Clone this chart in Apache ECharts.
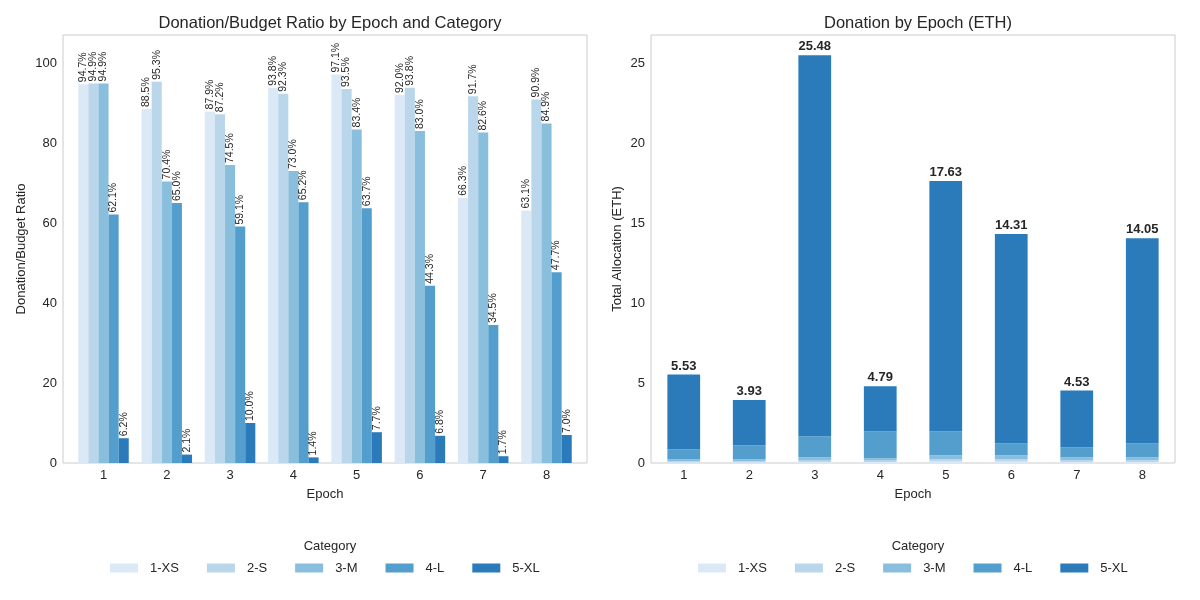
<!DOCTYPE html>
<html>
<head>
<meta charset="utf-8">
<script src="https://cdn.jsdelivr.net/npm/echarts@6/dist/echarts.min.js"></script>
<style>html,body{margin:0;padding:0;background:#fff}#c{width:1200px;height:600px}</style>
</head>
<body>
<div id="c"></div>
<script>
const epochs = ['1','2','3','4','5','6','7','8'];
const categories = ['1-XS','2-S','3-M','4-L','5-XL'];
const colors = ['#dbe9f6','#bad6eb','#89bedc','#539ecd','#2b7bba'];

// Donation/Budget ratio (%) per category
const ratioXS = [94.7, 88.5, 87.9, 93.8, 97.1, 92.0, 66.3, 63.1];
const ratioS  = [94.9, 95.3, 87.2, 92.3, 93.5, 93.8, 91.7, 90.9];
const ratioM  = [94.9, 70.4, 74.5, 73.0, 83.4, 83.0, 82.6, 84.9];
const ratioL  = [62.1, 65.0, 59.1, 65.2, 63.7, 44.3, 34.5, 47.7];
const ratioXL = [6.2, 2.1, 10.0, 1.4, 7.7, 6.8, 1.7, 7.0];

// Donation (ETH) per category
const ethXS = [0.05, 0.05, 0.07, 0.06, 0.10, 0.10, 0.07, 0.07];
const ethS  = [0.08, 0.08, 0.09, 0.10, 0.15, 0.15, 0.12, 0.12];
const ethM  = [0.10, 0.10, 0.20, 0.13, 0.23, 0.23, 0.17, 0.17];
const ethL  = [0.63, 0.88, 1.31, 1.70, 1.51, 0.75, 0.62, 0.87];
const ethXL = [4.67, 2.82, 23.81, 2.80, 15.64, 13.08, 3.55, 12.82];

const ratios = [ratioXS, ratioS, ratioM, ratioL, ratioXL];
const eths = [ethXS, ethS, ethM, ethL, ethXL];

const FONT = 'Liberation Sans, Arial, sans-serif';
const TXT = '#262626';

const chart = echarts.init(document.getElementById('c'), null, {renderer: 'canvas'});

const series = [];
ratios.forEach((arr, k) => {
  series.push({
    id: 'r' + k,
    name: categories[k],
    type: 'bar',
    xAxisIndex: 0, yAxisIndex: 0,
    barWidth: 10.1,
    barGap: '0%',
    itemStyle: {color: colors[k]},
    label: {
      show: true, position: 'top', rotate: 90, align: 'left', verticalAlign: 'middle',
      distance: 2, fontSize: 10.5, color: TXT, fontFamily: FONT,
      formatter: p => p.value[1].toFixed(1) + '%'
    },
    data: arr.map((v, i) => [i, v])
  });
});
eths.forEach((arr, k) => {
  const s = {
    id: 'e' + k,
    name: categories[k],
    type: 'bar',
    stack: 'eth',
    xAxisIndex: 1, yAxisIndex: 1,
    barWidth: '50%',
    itemStyle: {color: colors[k]},
    data: arr.slice()
  };
  if (k === eths.length - 1) {
    s.label = {
      show: true, position: 'top', distance: 2, fontSize: 13, fontWeight: 'bold',
      color: TXT, fontFamily: FONT,
      formatter: p => eths.reduce((a, e) => a + e[p.dataIndex], 0).toFixed(2)
    };
  }
  series.push(s);
});

const legendCommon = {
  data: categories,
  orient: 'horizontal',
  itemWidth: 28, itemHeight: 9, itemGap: 28,
  icon: 'rect',
  top: 561.5,
  padding: 0,
  textStyle: {fontSize: 13, color: TXT, fontFamily: FONT, padding: [0, 0, 0, 7]},
  selectedMode: false
};

chart.setOption({
  animation: false,
  textStyle: {fontFamily: FONT},
  title: [
    {text: 'Donation/Budget Ratio by Epoch and Category', left: 325, top: 10, textAlign: 'center',
     textStyle: {fontSize: 16.5, fontWeight: 'normal', color: TXT, fontFamily: FONT}},
    {text: 'Donation by Epoch (ETH)', left: 913, top: 10, textAlign: 'center',
     textStyle: {fontSize: 16.5, fontWeight: 'normal', color: TXT, fontFamily: FONT}},
    {text: 'Category', left: 325, top: 535, textAlign: 'center',
     textStyle: {fontSize: 13, fontWeight: 'normal', color: TXT, fontFamily: FONT}},
    {text: 'Category', left: 913, top: 535, textAlign: 'center',
     textStyle: {fontSize: 13, fontWeight: 'normal', color: TXT, fontFamily: FONT}}
  ],
  legend: [
    Object.assign({}, legendCommon, {left: 110}),
    Object.assign({}, legendCommon, {left: 698})
  ],
  grid: [
    {left: 63, right: 613, top: 35, bottom: 137, show: true, borderColor: '#cccccc', borderWidth: 1, backgroundColor: '#fff'},
    {left: 651, right: 25, top: 35, bottom: 137, show: true, borderColor: '#cccccc', borderWidth: 1, backgroundColor: '#fff'}
  ],
  xAxis: [
    {
      gridIndex: 0, type: 'value', min: -0.64, max: 7.64,
      axisLine: {show: false}, axisTick: {show: false}, splitLine: {show: false},
      axisLabel: {customValues: [0,1,2,3,4,5,6,7], formatter: v => epochs[Math.round(v)],
                  fontSize: 13, color: TXT, margin: 6, fontFamily: FONT},
      name: 'Epoch', nameLocation: 'middle', nameGap: 25,
      nameTextStyle: {fontSize: 13, color: TXT, fontFamily: FONT}
    },
    {
      gridIndex: 1, type: 'category', data: epochs,
      axisLine: {show: false}, axisTick: {show: false}, splitLine: {show: false},
      axisLabel: {fontSize: 13, color: TXT, margin: 6, fontFamily: FONT},
      name: 'Epoch', nameLocation: 'middle', nameGap: 25,
      nameTextStyle: {fontSize: 13, color: TXT, fontFamily: FONT}
    }
  ],
  yAxis: [
    {
      gridIndex: 0, type: 'value', min: 0, max: 107, interval: 20,
      axisLine: {show: false}, axisTick: {show: false}, splitLine: {show: false},
      axisLabel: {fontSize: 13, color: TXT, margin: 6, showMaxLabel: false, fontFamily: FONT},
      name: 'Donation/Budget Ratio', nameLocation: 'middle', nameGap: 35,
      nameTextStyle: {fontSize: 13, color: TXT, fontFamily: FONT}
    },
    {
      gridIndex: 1, type: 'value', min: 0, max: 26.75, interval: 5,
      axisLine: {show: false}, axisTick: {show: false}, splitLine: {show: false},
      axisLabel: {fontSize: 13, color: TXT, margin: 6, showMaxLabel: false, fontFamily: FONT},
      name: 'Total Allocation (ETH)', nameLocation: 'middle', nameGap: 27,
      nameTextStyle: {fontSize: 13, color: TXT, fontFamily: FONT}
    }
  ],
  series: series
});
</script>
</body>
</html>
